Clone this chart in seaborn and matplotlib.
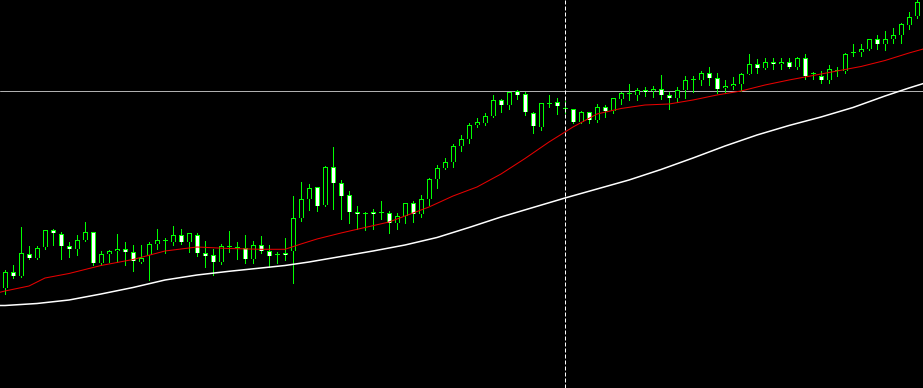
import numpy as np
import matplotlib
matplotlib.use("Agg")
import matplotlib.pyplot as plt
import seaborn as sns

# candle values (pixel-row price levels, smaller = higher)
opens = [288.7, 272.3, 276.7, 254.3, 258.7, 247.7, 230.3, 234.3, 246.3, 249.7,
         240.7, 232.3, 263, 254.7, 251.7, 249.3, 252.3, 262.3, 255.3, 244.7,
         240, 242.7, 235.3, 242.7, 235.3, 253.3, 255.3, 262.3, 246.3, 247.3,
         248.3, 259.3, 245.3, 251.3, 254.7, 253.3, 251.7, 218.7, 199.7, 187.3,
         205.3, 167.3, 183.3, 195.3, 212, 213.7, 212, 212.3, 213.3, 223.3,
         216.7, 203.3, 214.7, 199.3, 179.3, 168.3, 162.7, 146.7, 139.7, 125.7,
         123.3, 116.7, 100.3, 105.7, 91.7, 94, 113.3, 127.7, 103.3, 102.3,
         108.3, 109.3, 122.7, 112.3, 120.3, 107, 111.7, 99.7, 93, 95.7,
         90, 91.3, 89, 95, 98.7, 90.7, 79.5, 80.7, 73.3, 78.3,
         88.7, 86.7, 84.3, 74.3, 64, 68.7, 62, 64.7, 62.3, 67.3,
         58.7, 73.7, 76.7, 80.7, 70.5, 71.7, 52.5, 52.5, 49.5, 39.3,
         44.5, 39.3, 35, 25.7, 16.7]
closes = [272.3, 276.7, 253.3, 258.7, 248.3, 230.3, 233.7, 246.7, 249.7, 240.3,
          232.3, 263.3, 254.3, 251.3, 249.3, 252.7, 261.3, 258.3, 244.3, 240.3,
          241, 235.3, 242.7, 233.3, 253.3, 256.3, 262.3, 246.3, 247.3, 248.3,
          259.3, 245.3, 251.7, 256.3, 255.5, 255.3, 218.3, 199.3, 188.3, 206.3,
          167.3, 183.3, 196.3, 212.3, 214.3, 214.3, 214.3, 213, 223.3, 216.3,
          203.3, 214.3, 199.3, 179.3, 168.3, 162.3, 146, 139.3, 125, 122,
          116, 100, 105.7, 92, 95, 112.7, 126.7, 103.3, 104.3, 106.7,
          109.3, 122.7, 112, 120, 107, 111.7, 98, 93, 94, 90,
          92.7, 89, 95.3, 98.7, 90, 80, 80.5, 73.3, 78.3, 89,
          86, 84, 74.3, 64.3, 68.7, 62.3, 64.7, 62, 67.3, 58.3,
          76.7, 74.7, 80.7, 69.3, 71.5, 54.3, 53.5, 49.3, 39.3, 44.5,
          39.3, 35, 24.3, 17.3, 2]
highs = [270, 265, 227, 245.7, 246, 230.3, 229.3, 232.3, 242.3, 235,
         222, 231.7, 251, 250, 234, 242, 245, 245, 242.3, 229,
         237.7, 226, 229, 233, 233.3, 241, 249.3, 244, 231, 242,
         235, 241.3, 236, 245.3, 252, 238, 196, 182, 184.3, 186.7,
         166, 147, 180, 191, 206, 212.3, 209, 201, 211, 213.3,
         203, 201, 195, 177.7, 165, 158.3, 144.3, 135, 123.3, 118.3,
         113.3, 95, 99, 91.7, 90.3, 91.7, 112, 102.7, 95, 98.3,
         100.7, 109, 111, 111.7, 104, 105, 97.7, 91.7, 83.7, 88.3,
         87.3, 86, 75, 92, 86.7, 76, 76, 71, 66.7, 73.3,
         80, 77.3, 72.7, 54, 59.3, 58.3, 58.3, 58.3, 58.3, 57.3,
         54, 72, 71.3, 65, 66.7, 53.3, 44, 43.5, 39, 35,
         31, 28.3, 23.3, 12.3, 0]
lows = [294, 278.3, 276.7, 259, 259, 249, 244.7, 259, 256.7, 255,
        240.7, 265, 265.3, 261.7, 261.7, 264.7, 270.7, 263.3, 280, 249.3,
        253.3, 245, 244, 251.7, 255.7, 266.7, 274.7, 264, 252, 259,
        263.3, 262.7, 253.3, 267.3, 262.7, 260, 282.7, 221, 210, 210.7,
        205.7, 209, 218.7, 222.7, 228.7, 230, 229.3, 218.7, 232.7, 228.7,
        223.3, 221.7, 216.7, 205, 188.3, 169, 166.7, 150.7, 143.3, 126.7,
        125, 117.3, 111.7, 109.3, 99, 115, 133.3, 130, 106.7, 114,
        113.3, 123.3, 123.3, 123.3, 121.7, 116.7, 112.7, 103.7, 100, 100,
        96, 96.7, 99.3, 109, 101.7, 98.3, 92.3, 85, 85, 92.7,
        92.3, 88.5, 91, 74.3, 73.3, 69.3, 69.3, 69.3, 67.7, 69.3,
        79.3, 79.3, 82.7, 82.7, 76, 72.7, 55.7, 55.5, 50, 49.3,
        49.5, 43, 43.3, 29.3, 17.7]

# moving averages read at some bars
red_ma_bar = [-1, 0, 3, 5, 8, 12, 16, 20, 24, 28, 32, 35, 37, 39, 42, 45, 48, 51, 53,
              56, 59, 62, 65, 68, 71, 74, 77, 80, 83, 86, 89, 92, 95, 98, 101,
              104, 107, 110, 113, 115]
red_ma = [293, 291, 286, 278, 273.5, 265.5, 259.5, 251, 247, 248.5, 249.3, 249.3, 244,
          239, 233, 227.5, 222, 213, 207, 196, 187, 174, 158.5, 142, 127, 114,
          108.5, 105, 104, 100, 95, 91, 85, 80, 75.5, 71, 66.5, 60.5, 53, 48.5]
white_ma_bar = [-1, 0, 4, 8, 12, 16, 20, 24, 28, 32, 35, 38, 42, 46, 50, 54, 58,
                62, 66, 70, 74, 78, 82, 86, 90, 94, 98, 102, 106, 110, 113, 115]
white_ma = [305.5, 305.5, 303.5, 300, 294, 287.5, 280, 275, 271.3, 268, 265.5,
            262, 256.5, 251, 245, 237.5, 227.5, 217, 207.5, 198, 189, 180, 169.5,
            158, 146, 135, 125.5, 117, 107.5, 96, 88, 83]

crosshair_bar = 70
crosshair_price = 91.3

sns.set_style("dark", {"axes.facecolor": "black", "figure.facecolor": "black"})

fig = plt.figure(figsize=(9.23, 3.88), dpi=100)
ax = fig.add_axes([0, 0, 1, 1])
ax.set_facecolor("black")

o = np.array(opens)
c = np.array(closes)
x = np.arange(len(o))
up = c < o  # closes higher on the chart
top = np.minimum(o, c)
span = np.abs(o - c)

green = "#00ff00"
# wicks
ax.vlines(x, highs, lows, color=green, linewidth=0.72, antialiased=False, zorder=2)
# body outline: green block, then the inside in black (up) or white (down)
ax.bar(x, np.maximum(span, 1), bottom=top - 0.5, width=0.625, color=green,
       linewidth=0, antialiased=False, zorder=3)
inner = np.clip(span - 1, 0, None)
ax.bar(x, inner, bottom=top + 0.5, width=0.375,
       color=np.where(up, "black", "white"), linewidth=0,
       antialiased=False, zorder=3)

sns.lineplot(x=white_ma_bar, y=white_ma, color="white", linewidth=1.1, ax=ax, zorder=4)
sns.lineplot(x=red_ma_bar, y=red_ma, color="#e60000", linewidth=0.75, ax=ax, zorder=4)

ax.axhline(crosshair_price, color="#b0b0b0", linewidth=0.72, zorder=1)
ax.axvline(crosshair_bar, color="white", linewidth=0.72, dashes=(4, 2), zorder=5)

ax.set_xlim(-0.625, 114.75)
ax.set_ylim(388, 0)
ax.axis("off")

plt.savefig("out.png", dpi=100, facecolor="black")
